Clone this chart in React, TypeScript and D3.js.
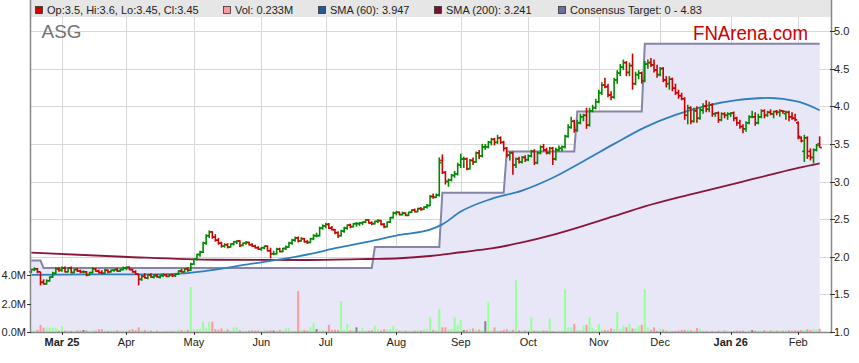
import React from 'react';
import * as d3 from 'd3';

const W = 859;
const H = 363;

// ASG daily OHLC (one entry per weekday, 17 Feb 2025 .. 11 Feb 2026)
const open = [
1.80,1.83,1.84,1.80,1.66,1.64,1.68,1.73,1.78,1.84,
1.82,1.85,1.80,1.85,1.79,1.83,1.81,1.80,1.80,1.76,
1.79,1.84,1.81,1.79,1.78,1.82,1.80,1.82,1.83,1.81,
1.83,1.85,1.86,1.83,1.80,1.77,1.70,1.74,1.72,1.76,
1.73,1.75,1.73,1.75,1.76,1.74,1.76,1.75,1.77,1.81,
1.80,1.84,1.82,1.90,1.97,2.03,2.06,2.18,2.28,2.33,
2.26,2.22,2.18,2.14,2.16,2.13,2.17,2.20,2.21,2.15,
2.18,2.19,2.16,2.14,2.12,2.10,2.12,2.14,2.08,2.04,
2.04,2.10,2.07,2.11,2.13,2.18,2.22,2.25,2.21,2.24,
2.20,2.19,2.24,2.28,2.28,2.38,2.41,2.43,2.38,2.36,
2.32,2.28,2.34,2.38,2.42,2.40,2.44,2.44,2.45,2.46,
2.49,2.45,2.44,2.47,2.48,2.43,2.40,2.46,2.52,2.58,
2.59,2.56,2.58,2.55,2.59,2.62,2.60,2.64,2.63,2.66,
2.68,2.80,2.79,2.82,3.28,3.12,3.00,3.02,3.08,3.10,
3.22,3.30,3.30,3.17,3.28,3.26,3.38,3.34,3.46,3.46,
3.52,3.56,3.52,3.58,3.52,3.44,3.35,3.38,3.22,3.30,
3.26,3.32,3.29,3.34,3.40,3.25,3.38,3.46,3.42,3.38,
3.44,3.30,3.42,3.44,3.46,3.60,3.72,3.80,3.68,3.78,
3.86,3.88,3.75,3.94,3.98,4.06,4.18,4.28,4.26,4.15,
4.12,4.35,4.44,4.52,4.58,4.45,4.54,4.30,4.42,4.44,
4.34,4.56,4.58,4.55,4.48,4.42,4.50,4.35,4.30,4.36,
4.24,4.18,4.14,4.10,3.88,3.98,3.80,3.94,3.84,3.95,
4.00,3.96,4.02,3.90,3.91,3.82,3.90,3.88,3.90,3.91,
3.84,3.78,3.73,3.70,3.78,3.86,3.86,3.78,3.86,3.94,
3.88,3.92,3.90,3.93,3.92,3.94,3.90,3.92,3.86,3.84,
3.78,3.58,3.40,3.58,3.40,3.32,3.42,3.50,
];
const high = [
1.84,1.86,1.85,1.80,1.70,1.70,1.74,1.80,1.86,1.86,
1.87,1.87,1.86,1.87,1.84,1.85,1.83,1.82,1.81,1.80,
1.86,1.85,1.83,1.82,1.84,1.83,1.83,1.84,1.85,1.84,
1.87,1.87,1.87,1.84,1.82,1.77,1.76,1.78,1.77,1.78,
1.77,1.77,1.76,1.78,1.77,1.77,1.77,1.78,1.82,1.84,
1.85,1.86,1.92,1.98,2.04,2.08,2.20,2.30,2.35,2.34,
2.30,2.25,2.20,2.18,2.18,2.18,2.21,2.22,2.22,2.19,
2.21,2.20,2.18,2.16,2.14,2.13,2.15,2.15,2.12,2.08,
2.12,2.12,2.12,2.15,2.20,2.24,2.27,2.27,2.26,2.25,
2.22,2.25,2.30,2.32,2.40,2.43,2.45,2.45,2.41,2.37,
2.34,2.36,2.40,2.43,2.44,2.45,2.46,2.46,2.47,2.50,
2.50,2.47,2.48,2.50,2.49,2.45,2.47,2.53,2.60,2.61,
2.60,2.60,2.59,2.60,2.63,2.64,2.65,2.66,2.67,2.70,
2.82,2.84,2.84,3.32,3.36,3.14,3.04,3.10,3.14,3.25,
3.37,3.33,3.32,3.30,3.32,3.40,3.42,3.50,3.50,3.54,
3.58,3.58,3.62,3.60,3.54,3.46,3.40,3.40,3.32,3.33,
3.34,3.35,3.36,3.42,3.43,3.40,3.48,3.50,3.45,3.46,
3.46,3.45,3.48,3.48,3.62,3.76,3.86,3.82,3.82,3.90,
3.90,3.98,3.98,4.02,4.10,4.22,4.32,4.38,4.30,4.20,
4.38,4.48,4.56,4.62,4.60,4.58,4.70,4.46,4.48,4.46,
4.60,4.62,4.64,4.62,4.55,4.52,4.52,4.40,4.40,4.38,
4.30,4.22,4.18,4.12,4.02,4.00,3.98,4.00,3.98,4.04,
4.08,4.06,4.04,3.92,3.93,3.92,3.92,3.92,3.92,3.93,
3.86,3.82,3.76,3.80,3.88,3.94,3.92,3.90,3.96,3.96,
3.94,3.96,3.94,3.95,3.96,3.95,3.94,3.94,3.92,3.90,
3.80,3.60,3.62,3.60,3.44,3.44,3.50,3.60,
];
const low = [
1.78,1.81,1.78,1.62,1.63,1.63,1.67,1.72,1.77,1.80,
1.80,1.79,1.79,1.78,1.78,1.80,1.78,1.78,1.74,1.75,
1.78,1.80,1.78,1.77,1.77,1.78,1.79,1.80,1.80,1.80,
1.82,1.82,1.82,1.79,1.76,1.62,1.68,1.71,1.70,1.72,
1.71,1.72,1.71,1.73,1.73,1.73,1.73,1.73,1.76,1.79,
1.79,1.80,1.81,1.89,1.95,2.00,2.05,2.16,2.25,2.24,
2.20,2.16,2.12,2.12,2.11,2.12,2.15,2.17,2.13,2.14,
2.16,2.15,2.13,2.11,2.09,2.08,2.10,2.07,1.98,2.02,
2.03,2.06,2.06,2.09,2.12,2.16,2.20,2.19,2.20,2.19,
2.17,2.18,2.22,2.26,2.27,2.36,2.38,2.37,2.35,2.30,
2.25,2.27,2.32,2.36,2.38,2.39,2.40,2.41,2.42,2.45,
2.44,2.42,2.43,2.45,2.42,2.38,2.39,2.45,2.51,2.55,
2.55,2.55,2.54,2.54,2.58,2.59,2.59,2.61,2.62,2.64,
2.67,2.77,2.78,2.80,3.10,2.96,2.93,3.00,3.05,3.08,
3.18,3.18,3.15,3.16,3.22,3.25,3.30,3.32,3.42,3.44,
3.48,3.48,3.50,3.50,3.40,3.32,3.28,3.09,3.18,3.24,
3.24,3.26,3.27,3.32,3.22,3.23,3.36,3.40,3.36,3.36,
3.22,3.28,3.40,3.40,3.44,3.58,3.70,3.65,3.66,3.76,
3.80,3.70,3.73,3.92,3.96,4.04,4.15,4.24,4.12,4.08,
4.10,4.30,4.40,4.48,4.40,4.40,4.22,4.28,4.36,4.30,
4.32,4.50,4.52,4.45,4.38,4.40,4.32,4.25,4.22,4.20,
4.15,4.10,4.08,3.82,3.76,3.76,3.78,3.78,3.82,3.90,
3.92,3.92,3.86,3.86,3.78,3.80,3.84,3.82,3.86,3.80,
3.74,3.70,3.64,3.66,3.76,3.84,3.74,3.76,3.84,3.84,
3.86,3.88,3.84,3.88,3.86,3.90,3.82,3.80,3.82,3.80,
3.56,3.52,3.26,3.30,3.28,3.24,3.40,3.45,
];
const close = [
1.83,1.84,1.80,1.66,1.64,1.68,1.73,1.78,1.84,1.82,
1.85,1.80,1.85,1.79,1.83,1.81,1.80,1.80,1.76,1.79,
1.84,1.81,1.79,1.78,1.82,1.80,1.82,1.83,1.81,1.83,
1.85,1.86,1.83,1.80,1.77,1.70,1.74,1.72,1.76,1.73,
1.75,1.73,1.75,1.76,1.74,1.76,1.75,1.77,1.81,1.80,
1.84,1.82,1.90,1.97,2.03,2.06,2.18,2.28,2.33,2.26,
2.22,2.18,2.14,2.16,2.13,2.17,2.20,2.21,2.15,2.18,
2.19,2.16,2.14,2.12,2.10,2.12,2.14,2.08,2.04,2.04,
2.10,2.07,2.11,2.13,2.18,2.22,2.25,2.21,2.24,2.20,
2.19,2.24,2.28,2.28,2.38,2.41,2.43,2.38,2.36,2.32,
2.28,2.34,2.38,2.42,2.40,2.44,2.44,2.45,2.46,2.49,
2.45,2.44,2.47,2.48,2.43,2.40,2.46,2.52,2.58,2.59,
2.56,2.58,2.55,2.59,2.62,2.60,2.64,2.63,2.66,2.68,
2.80,2.79,2.82,3.25,3.12,3.00,3.02,3.08,3.10,3.22,
3.30,3.30,3.17,3.28,3.26,3.38,3.34,3.46,3.46,3.52,
3.56,3.52,3.58,3.52,3.44,3.35,3.38,3.22,3.30,3.26,
3.32,3.29,3.34,3.40,3.25,3.38,3.46,3.42,3.38,3.44,
3.30,3.42,3.44,3.46,3.60,3.72,3.80,3.68,3.78,3.86,
3.88,3.75,3.94,3.98,4.06,4.18,4.28,4.26,4.15,4.12,
4.35,4.44,4.52,4.58,4.45,4.54,4.30,4.42,4.44,4.34,
4.56,4.58,4.55,4.48,4.42,4.50,4.35,4.30,4.36,4.24,
4.18,4.14,4.10,3.88,3.98,3.80,3.94,3.84,3.95,4.00,
3.96,4.02,3.90,3.91,3.82,3.90,3.88,3.90,3.91,3.84,
3.78,3.73,3.70,3.78,3.86,3.86,3.78,3.86,3.94,3.88,
3.92,3.90,3.93,3.92,3.94,3.93,3.92,3.86,3.84,3.82,
3.60,3.54,3.58,3.34,3.32,3.42,3.48,3.45,
];
// volume in millions of shares
const volume = [
0.12,0.10,0.15,0.50,0.30,0.30,0.30,0.30,0.28,0.10,
0.42,0.10,0.12,0.08,0.10,0.12,0.10,0.14,0.12,0.10,
0.15,0.10,0.20,0.20,0.12,0.08,0.10,0.10,0.12,0.08,
0.10,0.12,0.15,0.20,0.12,0.33,0.12,0.15,0.10,0.10,
0.08,0.10,0.08,0.10,0.08,0.10,0.08,0.10,0.18,0.12,
0.10,0.15,3.16,0.20,0.20,0.22,0.72,0.25,0.72,0.72,
0.20,0.15,0.25,0.12,0.18,0.10,0.33,0.33,0.12,0.10,
0.10,0.10,0.12,0.10,0.10,0.08,0.20,0.10,0.12,0.10,
0.10,0.15,0.10,0.25,0.25,0.10,0.10,2.88,0.12,0.15,
0.10,0.33,0.66,0.20,0.10,0.15,0.10,0.50,0.15,0.15,
0.15,2.17,0.15,0.57,0.12,0.15,0.33,0.10,0.28,0.10,
0.10,0.12,0.43,0.20,0.10,0.20,0.15,0.20,0.43,0.20,
0.10,0.12,0.10,0.10,0.12,0.10,0.12,0.10,0.20,0.20,
1.03,0.15,0.12,1.61,0.33,0.33,0.20,0.20,1.03,0.50,
0.85,0.14,0.15,0.20,0.25,0.17,0.17,0.12,0.76,2.10,
0.12,0.33,0.12,0.10,0.15,0.20,0.10,0.15,3.65,0.12,
0.10,0.10,0.12,1.03,0.10,0.12,0.12,0.12,0.10,0.96,
0.07,0.07,0.08,0.10,3.00,0.33,0.33,0.57,0.14,0.14,
0.43,0.50,1.03,0.28,0.15,0.57,0.15,0.15,0.12,0.25,
0.20,1.40,0.20,0.43,0.33,0.57,0.25,0.25,0.43,0.50,
3.00,0.33,0.14,0.33,0.08,0.25,0.18,0.10,0.10,0.08,
0.08,0.10,0.15,0.15,0.18,0.12,0.10,0.28,0.22,0.10,
0.08,0.07,0.08,0.07,0.10,0.08,0.10,0.10,0.07,0.08,
0.10,0.08,0.10,0.08,0.10,0.14,0.10,0.12,0.10,0.14,
0.10,0.12,0.14,0.10,0.12,0.10,0.14,0.12,0.10,0.12,
0.10,0.14,0.14,0.20,0.14,0.20,0.18,0.233,
];

const sma60Idx = [0, 20, 40, 50, 60, 70, 80, 90, 100, 110, 120, 130, 134, 140, 150, 160, 170, 180, 190, 200, 210, 220, 230, 240, 250, 257];
const sma60Val = [1.76, 1.765, 1.765, 1.78, 1.83, 1.895, 1.957, 2.03, 2.12, 2.2, 2.29, 2.36, 2.43, 2.6, 2.77, 2.88, 3.05, 3.27, 3.5, 3.72, 3.885, 4.005, 4.08, 4.11, 4.06, 3.947];
const sma200Idx = [0, 30, 60, 90, 110, 120, 130, 140, 150, 160, 170, 180, 190, 200, 210, 220, 230, 240, 250, 257];
const sma200Val = [2.054, 2.0, 1.96, 1.957, 1.97, 1.98, 2.01, 2.06, 2.11, 2.19, 2.29, 2.41, 2.54, 2.67, 2.78, 2.88, 2.98, 3.08, 3.18, 3.241];

// consensus target steps (first bar of each level)
const targetStart = [0, 4, 112, 134, 155, 178, 200];
const targetVal = [1.95, 1.85, 2.13, 2.85, 3.4, 3.93, 4.83];

const monthLabels = ['Mar 25', 'Apr', 'May', 'Jun', 'Jul', 'Aug', 'Sep', 'Oct', 'Nov', 'Dec', 'Jan 26', 'Feb'];
const monthIdx = [10, 31, 53, 75, 96, 119, 140, 162, 185, 205, 228, 250];
const priceTicks = [1.0, 1.5, 2.0, 2.5, 3.0, 3.5, 4.0, 4.5, 5.0];
const volTicks = [0, 2, 4];

const legendItems = [
  { x: 35, color: '#cc0000', text: 'Op:3.5, Hi:3.6, Lo:3.45, Cl:3.45' },
  { x: 223, color: '#ff9999', text: 'Vol: 0.233M' },
  { x: 318, color: '#1f5b99', text: 'SMA (60): 3.947' },
  { x: 434, color: '#7a0f2e', text: 'SMA (200): 3.241' },
  { x: 558, color: '#6f6f9f', text: 'Consensus Target: 0 - 4.83' },
];

const FONT = '"Liberation Sans", Arial, Helvetica, sans-serif';

export default function App() {
  const L = 31, R = 831, T = 17, B = 332;
  const n = close.length;
  const x = d3.scaleLinear().domain([-0.1, 260.7]).range([L, R]);
  const y = d3.scaleLinear().domain([1, 5]).range([B, 31]);
  const yv = d3.scaleLinear().domain([0, 4]).range([B, 275]);

  // target step points
  const tPts: [number, number][] = [];
  targetStart.forEach((s, k) => {
    const e = k < targetStart.length - 1 ? targetStart[k + 1] - 1 : n - 1;
    tPts.push([s, targetVal[k]]);
    tPts.push([e, targetVal[k]]);
  });
  const tLine = d3.line<[number, number]>().x(d => x(d[0])).y(d => y(d[1]));
  const tArea = d3.area<[number, number]>().x(d => x(d[0])).y0(B).y1(d => y(d[1]));

  const smaLine = d3.line<[number, number]>().x(d => x(d[0])).y(d => y(d[1])).curve(d3.curveMonotoneX);
  const s60 = sma60Idx.map((i, k) => [i, sma60Val[k]] as [number, number]);
  const s200 = sma200Idx.map((i, k) => [i, sma200Val[k]] as [number, number]);

  const volColor = (i: number) => close[i] > open[i] ? '#99ff99' : close[i] < open[i] ? '#ff9999' : '#858585';
  const barColor = (i: number) => close[i] >= open[i] ? '#008a00' : '#d00000';

  return (
    <svg width={W} height={H} style={{ position: 'absolute', left: 0, top: 0, background: '#fff' }} fontFamily={FONT}>
      {/* grid */}
      {priceTicks.slice(1).map(p => (
        <line key={'hg' + p} x1={L} x2={R} y1={Math.round(y(p)) + 0.5} y2={Math.round(y(p)) + 0.5} stroke="#d8d8d8" strokeWidth={1} />
      ))}
      {monthIdx.map(i => (
        <line key={'vg' + i} x1={Math.round(x(i)) + 0.5} x2={Math.round(x(i)) + 0.5} y1={T} y2={B} stroke="#d8d8d8" strokeWidth={1} />
      ))}
      {/* consensus fill */}
      <path d={tArea(tPts) || ''} fill="#e7e7f7" />
      <path d={tLine(tPts) || ''} fill="none" stroke="#8585a8" strokeWidth={2} />
      {/* volume */}
      {volume.map((v, i) => (
        <rect key={'v' + i} x={x(i) - 1} y={yv(v)} width={2} height={B - yv(v)} fill={volColor(i)} />
      ))}
      {/* SMAs */}
      <path d={smaLine(s200) || ''} fill="none" stroke="#8a1538" strokeWidth={1.8} />
      <path d={smaLine(s60) || ''} fill="none" stroke="#2f7fbf" strokeWidth={1.8} />
      {/* OHLC bars */}
      {close.map((c, i) => {
        const cx = x(i);
        const col = barColor(i);
        return (
          <g key={'b' + i} stroke={col} strokeWidth={1.6}>
            <line x1={cx} x2={cx} y1={y(high[i])} y2={y(low[i])} />
            <line x1={cx - 2.2} x2={cx} y1={y(open[i])} y2={y(open[i])} />
            <line x1={cx} x2={cx + 2.2} y1={y(c)} y2={y(c)} />
          </g>
        );
      })}
      {/* legend band */}
      <rect x={L} y={0} width={R - L} height={T} fill="#e6e6e6" />
      {legendItems.map(it => (
        <g key={it.text}>
          <rect x={it.x + 0.5} y={6.5} width={7} height={7} fill={it.color} stroke="#333" strokeWidth={0.8} />
          <text x={it.x + 12} y={14} fontSize={11} fill="#222">{it.text}</text>
        </g>
      ))}
      {/* frame / axes */}
      <line x1={L - 0.5} x2={L - 0.5} y1={0} y2={B} stroke="#888" strokeWidth={1.5} />
      <line x1={R + 0.5} x2={R + 0.5} y1={0} y2={B} stroke="#888" strokeWidth={1.5} />
      <line x1={L - 1} x2={R + 1} y1={B + 0.5} y2={B + 0.5} stroke="#888" strokeWidth={1.5} />
      {/* right price axis */}
      {priceTicks.map(p => (
        <g key={'pt' + p}>
          <line x1={R - 1} x2={R + 4} y1={Math.round(y(p)) + 0.5} y2={Math.round(y(p)) + 0.5} stroke="#333" strokeWidth={1} />
          <text x={R + 3} y={y(p) + 4} fontSize={11} fill="#222">{p.toFixed(1)}</text>
        </g>
      ))}
      {/* left volume axis */}
      {volTicks.map(v => (
        <g key={'vt' + v}>
          <line x1={L - 4} x2={L} y1={Math.round(yv(v)) + 0.5} y2={Math.round(yv(v)) + 0.5} stroke="#333" strokeWidth={1} />
          <text x={L - 5} y={yv(v) + 4} fontSize={11} fill="#222" textAnchor="end">{v.toFixed(1) + 'M'}</text>
        </g>
      ))}
      {/* x axis */}
      {monthIdx.map((i, k) => (
        <g key={'xt' + i}>
          <line x1={Math.round(x(i)) + 0.5} x2={Math.round(x(i)) + 0.5} y1={B} y2={B + 3} stroke="#333" strokeWidth={1} />
          <text x={x(i)} y={346} fontSize={11} fill="#222" textAnchor="middle" fontWeight={monthLabels[k].includes(' ') ? 'bold' : 'normal'}>{monthLabels[k]}</text>
        </g>
      ))}
      {/* titles */}
      <text x={41.5} y={38.3} fontSize={18} fill="#737373" textLength={40} lengthAdjust="spacingAndGlyphs">ASG</text>
      <text x={693} y={39.5} fontSize={20} fill="#cc0000" textLength={115} lengthAdjust="spacingAndGlyphs">FNArena.com</text>
    </svg>
  );
}
